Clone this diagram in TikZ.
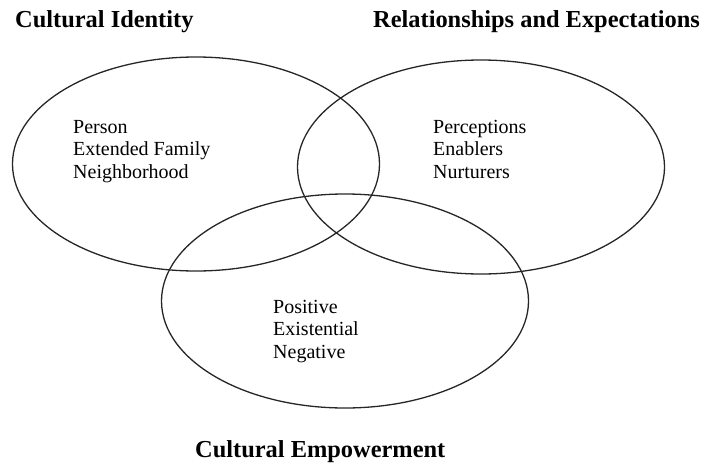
\documentclass[tikz,border=0pt]{standalone}
\usepackage{fontspec}
\setmainfont{Liberation Serif}
\usetikzlibrary{shapes.geometric}
\tikzset{%
   ring/.style={
      ellipse,
      draw=black!85,
      line width=1.3pt,
      minimum width=367pt,
      minimum height=214pt,
      inner sep=0pt
   },
   title/.style={
      anchor=base west,
      inner sep=0pt,
      font=\fontsize{24.4}{28}\selectfont\bfseries
   },
   items/.style={
      anchor=base west,
      inner sep=0pt,
      align=left,
      font=\fontsize{20}{22.5}\selectfont
   },
}

\begin{document}
\begin{tikzpicture}[x=1pt, y=-1pt]
   \useasboundingbox (0,0) rectangle (703,463);
   % the three circles
   \node[ring] (identity) at (196,164) {};
   \node[ring] (relations) at (481,167) {};
   \node[ring] (empower) at (345,301) {};
   % headings
   \node[title] (tidentity) at (15,27) {Cultural Identity};
   \node[title] (trelations) at (373,27) {Relationships and Expectations};
   \node[title] (tempower) at (195,457) {Cultural Empowerment};
   % contents (base = last line)
   \node[items] (lidentity) at (73,178) {Person\\Extended Family\\Neighborhood};
   \node[items] (lrelations) at (433,178) {Perceptions\\Enablers\\Nurturers};
   \node[items] (lempower) at (273,358) {Positive\\Existential\\Negative};
\end{tikzpicture}
\end{document}
